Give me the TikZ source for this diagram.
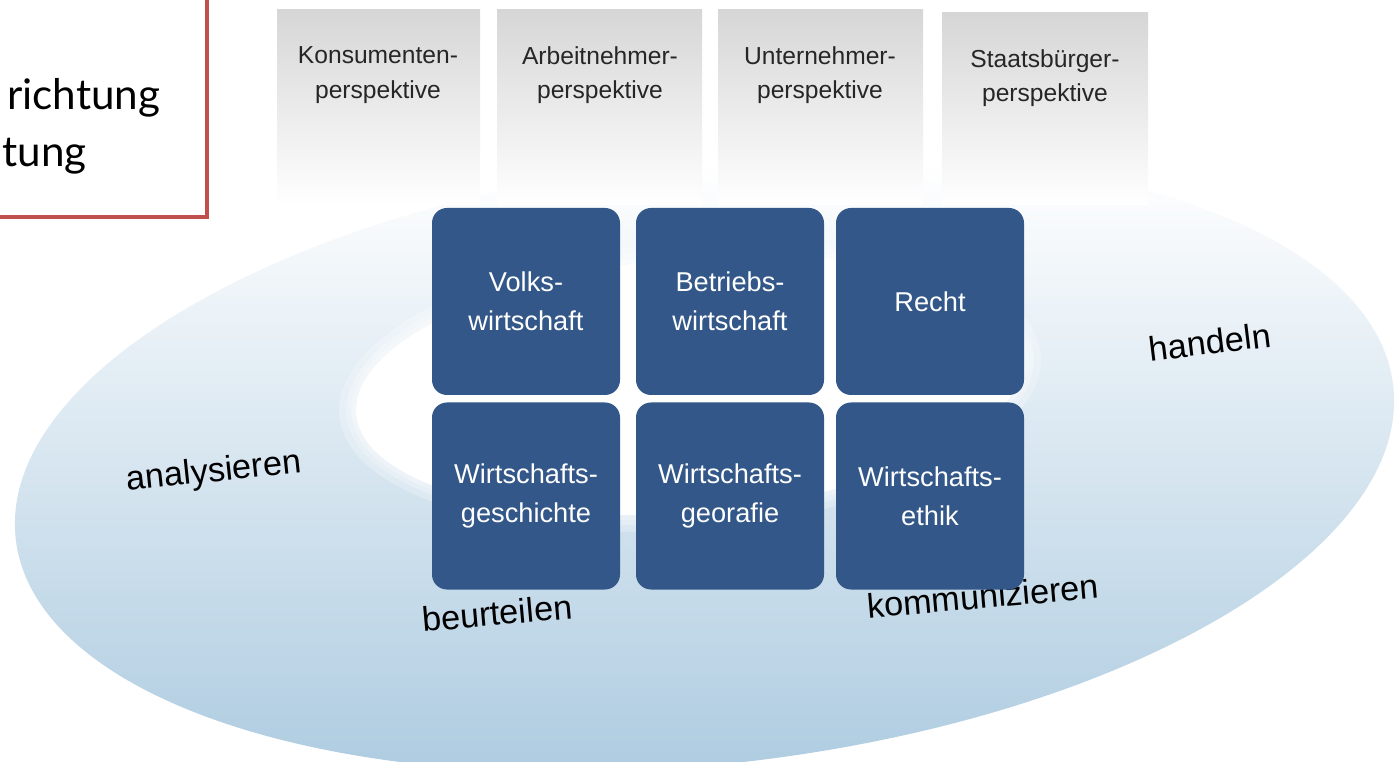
\documentclass[tikz,border=0pt]{standalone}
\usepackage{fontspec}
\setmainfont{Liberation Sans}
\newfontfamily\framefont{Lato}
\usetikzlibrary{positioning}

\definecolor{discblue}{RGB}{170,201,223}
\definecolor{discmid}{RGB}{222,233,242}
\definecolor{tileblue}{RGB}{50,87,136}
\definecolor{framered}{RGB}{192,80,77}
\definecolor{perspgray}{RGB}{214,214,214}

\tikzset{
  tile/.style={fill=tileblue, rounded corners=3mm, minimum width=37.6mm,
    minimum height=37.4mm, inner sep=0pt, text=white, align=center,
    font=\fontsize{15.5}{22}\selectfont},
  perspbox/.style={top color=perspgray, bottom color=white},
  persptext/.style={align=center, text=black!85, font=\fontsize{14}{19.5}\selectfont},
  skillword/.style={inner sep=0pt, font=\fontsize{19.5}{24}\selectfont},
  frametext/.style={anchor=base west, inner sep=0pt, font=\framefont\fontsize{24}{28}\selectfont},
  holeglow/.style={white, opacity=.25, rotate around={5:(holeCenter)}}
}

\begin{document}
\begin{tikzpicture}[x=0.2mm, y=-0.2mm]
  \useasboundingbox (0,0) rectangle (1397,762);
  \clip (0,0) rectangle (1397,762);
  %% Disc with white hole
  \coordinate (discCenter) at (704.5,462.5);
  \coordinate (holeCenter) at (690,385);
  \shade[rotate around={6.3:(discCenter)}, top color=white, middle color=discmid,
    bottom color=discblue] (discCenter) ellipse [x radius=693, y radius=302];
  \fill[holeglow] (holeCenter) ellipse [x radius=352, y radius=144];
  \fill[holeglow] (holeCenter) ellipse [x radius=345, y radius=137];
  \fill[holeglow] (holeCenter) ellipse [x radius=340, y radius=132];
  \fill[white, rotate around={5:(holeCenter)}] (holeCenter) ellipse [x radius=335, y radius=127];
  %% Perspectives
  \shade[perspbox] (277,10) rectangle (480,205);
  \shade[perspbox] (497,10) rectangle (702,205);
  \shade[perspbox] (718,10) rectangle (923,205);
  \shade[perspbox] (942,13) rectangle (1148,205);
  \node[persptext] (kp) at (378,75) {Konsumenten-\\perspektive};
  \node[persptext] (ap) at (600,75) {Arbeitnehmer-\\perspektive};
  \node[persptext] (up) at (820,75) {Unternehmer-\\perspektive};
  \node[persptext] (sp) at (1045,78) {Staatsbürger-\\perspektive};
  %% Skills
  \node[skillword, rotate=6] (ana) at (214,473) {analysieren};
  \node[skillword, rotate=7] (han) at (1210,342) {handeln};
  \node[skillword, rotate=5] (kom) at (983,596) {kommunizieren};
  \node[skillword, rotate=5] (beu) at (497,613) {beurteilen};
  %% Subjects
  \node[tile] (vw) at (526,301.5) {Volks-\\wirtschaft};
  \node[tile] (bw) at (730,301.5) {Betriebs-\\wirtschaft};
  \node[tile] (re) at (930,301.5) {Recht};
  \node[tile] (wg) at (526,496) {Wirtschafts-\\geschichte};
  \node[tile] (wgeo) at (730,496) {Wirtschafts-\\georafie};
  \node[tile] (we) at (930,496) {Wirtschafts-\\ethik};
  %% Frame at top left
  \draw[line width=0.8mm, framered] (-20,-20) rectangle (207,217);
  \node[frametext] (fl1) at (7,110) {richtung};
  \node[frametext] (fl2) at (2,167) {tung};
\end{tikzpicture}
\end{document}
